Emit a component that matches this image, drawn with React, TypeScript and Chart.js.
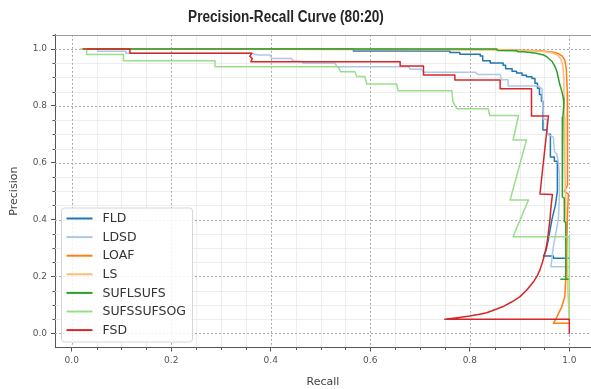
import React, { useEffect, useRef } from "react";
import { Chart, registerables } from "chart.js";

Chart.register(...registerables);

const CHART_TITLE = "Precision-Recall Curve (80:20)";
const X_LABEL = "Recall";
const Y_LABEL = "Precision";
const SERIES_NAMES = ["FLD", "LDSD", "LOAF", "LS", "SUFLSUFS", "SUFSSUFSOG", "FSD"];
const SERIES_COLORS = ["#1f77b4", "#aec7e8", "#ff7f0e", "#ffbb78", "#2ca02c", "#98df8a", "#d62728"];
const X_TICKS = [0, 0.2, 0.4, 0.6, 0.8, 1.0];
const Y_TICKS = [0, 0.2, 0.4, 0.6, 0.8, 1.0];

// [recall, precision]
const fld: number[][] = [
  [0.022, 1.0], [0.566, 1.0], [0.566, 0.993], [0.760, 0.993], [0.760, 0.988], [0.780, 0.988],
  [0.780, 0.982], [0.821, 0.982], [0.821, 0.975], [0.826, 0.975], [0.826, 0.959], [0.841, 0.959],
  [0.841, 0.951], [0.867, 0.951], [0.867, 0.943], [0.872, 0.943], [0.872, 0.931], [0.885, 0.931],
  [0.885, 0.922], [0.894, 0.922], [0.894, 0.916], [0.905, 0.916], [0.905, 0.908], [0.914, 0.908],
  [0.914, 0.902], [0.925, 0.902], [0.925, 0.896], [0.931, 0.896], [0.931, 0.880], [0.936, 0.880],
  [0.936, 0.862], [0.940, 0.862], [0.940, 0.840], [0.944, 0.840], [0.944, 0.816], [0.947, 0.816],
  [0.947, 0.715], [0.955, 0.715], [0.955, 0.700], [0.962, 0.700], [0.962, 0.620], [0.970, 0.620],
  [0.970, 0.605], [0.976, 0.605], [0.976, 0.500], [0.972, 0.450], [0.965, 0.400], [0.958, 0.330],
  [0.953, 0.290], [0.948, 0.272], [0.968, 0.272], [0.968, 0.264], [1.0, 0.264],
];

const ldsd: number[][] = [
  [0.022, 1.0], [0.052, 1.0], [0.052, 0.992], [0.109, 0.992], [0.109, 0.985], [0.358, 0.985],
  [0.375, 0.979], [0.399, 0.979], [0.402, 0.967], [0.442, 0.967], [0.444, 0.959], [0.465, 0.955],
  [0.465, 0.950], [0.529, 0.950], [0.533, 0.938], [0.677, 0.938], [0.680, 0.929], [0.703, 0.929],
  [0.707, 0.918], [0.811, 0.918], [0.817, 0.910], [0.861, 0.910], [0.864, 0.892], [0.877, 0.892],
  [0.877, 0.870], [0.938, 0.870], [0.945, 0.860], [0.948, 0.753], [0.955, 0.753], [0.956, 0.700],
  [0.968, 0.690], [0.970, 0.640], [0.975, 0.630], [0.978, 0.600], [0.980, 0.560], [0.980, 0.480],
  [0.978, 0.400], [0.968, 0.305], [0.963, 0.234], [1.0, 0.234],
];

const loaf: number[][] = [
  [0.022, 1.0], [0.851, 0.998], [0.941, 0.994], [0.968, 0.989], [0.978, 0.984], [0.986, 0.975],
  [0.991, 0.960], [0.994, 0.930], [0.996, 0.850], [0.997, 0.600], [0.996, 0.520], [0.990, 0.500],
  [0.998, 0.490], [0.996, 0.399], [0.995, 0.281], [0.993, 0.200], [0.991, 0.129], [0.985, 0.094],
  [0.975, 0.058], [0.968, 0.035], [1.0, 0.035],
];

const ls: number[][] = [
  [0.022, 1.0], [0.850, 0.997], [0.940, 0.993], [0.963, 0.988], [0.976, 0.980], [0.983, 0.965],
  [0.987, 0.940], [0.989, 0.900], [0.990, 0.760], [0.991, 0.600], [0.992, 0.500], [0.995, 0.300],
  [0.997, 0.150], [1.0, 0.045],
];

const suflsufs: number[][] = [
  [0.022, 1.0], [0.854, 1.0], [0.856, 0.995], [0.894, 0.994], [0.897, 0.990], [0.908, 0.990],
  [0.934, 0.985], [0.950, 0.978], [0.955, 0.972], [0.965, 0.957], [0.971, 0.939], [0.975, 0.921],
  [0.978, 0.898], [0.981, 0.874], [0.985, 0.851], [0.988, 0.828], [0.989, 0.804], [0.987, 0.760],
  [0.986, 0.480], [0.990, 0.475], [0.990, 0.393], [0.993, 0.390], [0.993, 0.190], [0.983, 0.190],
  [1.0, 0.190],
];

const sufssufsog: number[][] = [
  [0.016, 1.0], [0.030, 1.0], [0.030, 0.981], [0.104, 0.981], [0.104, 0.959], [0.288, 0.959],
  [0.288, 0.938], [0.536, 0.938], [0.540, 0.920], [0.569, 0.920], [0.573, 0.903], [0.589, 0.903],
  [0.593, 0.877], [0.653, 0.877], [0.656, 0.853], [0.764, 0.853], [0.766, 0.815], [0.774, 0.790],
  [0.837, 0.790], [0.840, 0.766], [0.898, 0.766], [0.887, 0.680], [0.914, 0.680], [0.881, 0.469],
  [0.918, 0.469], [0.887, 0.340], [1.0, 0.340], [1.0, 0.045],
];

const fsd: number[][] = [
  [0.022, 1.0], [0.117, 1.0], [0.117, 0.985], [0.362, 0.985], [0.358, 0.975], [0.363, 0.966],
  [0.360, 0.955], [0.660, 0.955], [0.660, 0.940], [0.707, 0.940], [0.707, 0.909], [0.770, 0.909],
  [0.770, 0.891], [0.861, 0.891], [0.861, 0.860], [0.924, 0.860], [0.924, 0.764], [0.958, 0.764],
  [0.941, 0.490], [0.966, 0.488], [0.963, 0.440], [0.961, 0.399], [0.959, 0.370], [0.957, 0.340],
  [0.955, 0.315], [0.951, 0.281], [0.946, 0.250], [0.941, 0.223], [0.935, 0.200], [0.928, 0.181],
  [0.915, 0.153], [0.901, 0.129], [0.884, 0.110], [0.867, 0.094], [0.850, 0.083], [0.834, 0.072],
  [0.817, 0.066], [0.800, 0.061], [0.775, 0.055], [0.750, 0.049], [1.0, 0.049], [1.0, 0.0],
];

const SERIES_POINTS = [fld, ldsd, loaf, ls, suflsufs, sufssufsog, fsd];

const gridPlugin = {
  id: "mplGrid",
  beforeDatasetsDraw(chart: any) {
    const { ctx, chartArea: a, scales } = chart;
    const xs = scales.x;
    const ys = scales.y;
    ctx.save();
    ctx.beginPath();
    ctx.rect(a.left, a.top, a.right - a.left, a.bottom - a.top);
    ctx.clip();
    ctx.strokeStyle = "#e8e8e8";
    ctx.lineWidth = 0.8;
    ctx.setLineDash([]);
    for (let i = -1; i <= 21; i++) {
      if (i % 4 === 0) continue;
      const v = i * 0.05;
      const px = Math.round(xs.getPixelForValue(v)) + 0.5;
      const py = Math.round(ys.getPixelForValue(v)) + 0.5;
      ctx.beginPath();
      ctx.moveTo(px, a.top);
      ctx.lineTo(px, a.bottom);
      ctx.moveTo(a.left, py);
      ctx.lineTo(a.right, py);
      ctx.stroke();
    }
    ctx.strokeStyle = "#a8a8a8";
    ctx.lineWidth = 1;
    ctx.setLineDash([2, 2]);
    X_TICKS.forEach((v) => {
      const px = Math.round(xs.getPixelForValue(v)) + 0.5;
      ctx.beginPath();
      ctx.moveTo(px, a.top);
      ctx.lineTo(px, a.bottom);
      ctx.stroke();
    });
    Y_TICKS.forEach((v) => {
      const py = Math.round(ys.getPixelForValue(v)) + 0.5;
      ctx.beginPath();
      ctx.moveTo(a.left, py);
      ctx.lineTo(a.right, py);
      ctx.stroke();
    });
    ctx.restore();

    ctx.save();
    ctx.strokeStyle = "#9a9a9a";
    ctx.lineWidth = 1;
    ctx.beginPath();
    ctx.moveTo(a.left, Math.round(a.top) + 0.5);
    ctx.lineTo(a.right, Math.round(a.top) + 0.5);
    ctx.stroke();
    ctx.strokeStyle = "#555";
    for (let i = -1; i <= 21; i++) {
      if (i % 4 === 0) continue;
      const v = i * 0.05;
      const px = Math.round(xs.getPixelForValue(v)) + 0.5;
      const py = Math.round(ys.getPixelForValue(v)) + 0.5;
      ctx.beginPath();
      if (px >= a.left && px <= a.right) {
        ctx.moveTo(px, a.bottom);
        ctx.lineTo(px, a.bottom + 2.5);
      }
      if (py >= a.top && py <= a.bottom) {
        ctx.moveTo(a.left, py);
        ctx.lineTo(a.left - 2.5, py);
      }
      ctx.stroke();
    }
    ctx.restore();
  },
};

const legendPlugin = {
  id: "mplLegend",
  afterDatasetsDraw(chart: any) {
    const { ctx, chartArea: a } = chart;
    ctx.save();
    const bx = a.left + 6.5;
    const by = a.bottom - 139.5;
    const bw = 131;
    const bh = 134;
    ctx.beginPath();
    ctx.roundRect(bx, by, bw, bh, 3);
    ctx.fillStyle = "rgba(255,255,255,0.85)";
    ctx.fill();
    ctx.strokeStyle = "#d6d6d6";
    ctx.lineWidth = 1;
    ctx.stroke();
    ctx.font = '12.5px "DejaVu Sans"';
    ctx.textBaseline = "middle";
    ctx.textAlign = "left";
    chart.data.datasets.forEach((ds: any, i: number) => {
      const yy = by + 10.5 + i * 18.6;
      ctx.strokeStyle = ds.borderColor;
      ctx.lineWidth = 2;
      ctx.beginPath();
      ctx.moveTo(bx + 5, yy);
      ctx.lineTo(bx + 31, yy);
      ctx.stroke();
      ctx.fillStyle = "#333";
      ctx.fillText(ds.label, bx + 41, yy + 0.5);
    });
    ctx.restore();
  },
};

// Title drawn with a slight horizontal condensation, as in the reference
const titlePlugin = {
  id: "condensedTitle",
  afterDraw(chart: any) {
    const { ctx } = chart;
    ctx.save();
    ctx.font = 'bold 16px "Liberation Sans", Arial, sans-serif';
    ctx.fillStyle = "#262626";
    ctx.textAlign = "center";
    ctx.textBaseline = "middle";
    ctx.translate(286, 18);
    ctx.scale(0.85, 1);
    ctx.fillText(CHART_TITLE, 0, 0);
    ctx.restore();
  },
};

export default function App() {
  const canvasRef = useRef<HTMLCanvasElement | null>(null);

  useEffect(() => {
    if (!canvasRef.current) return;
    const datasets = SERIES_NAMES.map((name, i) => ({
      label: name,
      data: SERIES_POINTS[i].map((p) => ({ x: p[0], y: p[1] })),
      borderColor: SERIES_COLORS[i],
      backgroundColor: SERIES_COLORS[i],
      borderWidth: 1.5,
      pointRadius: 0,
      tension: 0,
      fill: false,
      borderJoinStyle: "round" as const,
      order: SERIES_NAMES.length - 1 - i,
    }));
    const tickFont = { family: '"DejaVu Sans"', size: 9 };
    const chart = new Chart(canvasRef.current, {
      type: "line",
      data: { datasets },
      plugins: [gridPlugin, legendPlugin, titlePlugin],
      options: {
        animation: false,
        responsive: false,
        maintainAspectRatio: false,
        devicePixelRatio: 1,
        layout: { padding: { top: 34.8, left: 0, right: 0, bottom: 0 } },
        plugins: {
          legend: { display: false },
          tooltip: { enabled: false },
          title: { display: false, text: CHART_TITLE },
        },
        scales: {
          x: {
            type: "linear",
            min: -0.0336,
            max: 1.0436,
            afterBuildTicks: (s: any) => {
              s.ticks = X_TICKS.map((v) => ({ value: v }));
            },
            afterFit: (s: any) => {
              s.height = 41.5;
            },
            ticks: {
              color: "#555",
              font: tickFont,
              padding: 4,
              maxRotation: 0,
              autoSkip: false,
              callback: (v: any) => Number(v).toFixed(1),
            },
            grid: { drawOnChartArea: false, drawTicks: true, tickLength: 4, tickColor: "#555", tickWidth: 1 },
            border: { display: true, color: "#555", width: 1 },
            title: { display: true, text: X_LABEL, color: "#444", font: { family: '"DejaVu Sans"', size: 11 }, padding: { top: 0, bottom: 0 } },
          },
          y: {
            type: "linear",
            min: -0.05,
            max: 1.05,
            afterBuildTicks: (s: any) => {
              s.ticks = Y_TICKS.map((v) => ({ value: v }));
            },
            afterFit: (s: any) => {
              s.width = 55;
            },
            ticks: {
              color: "#555",
              font: tickFont,
              padding: 4,
              autoSkip: false,
              callback: (v: any) => Number(v).toFixed(1),
            },
            grid: { drawOnChartArea: false, drawTicks: true, tickLength: 4, tickColor: "#555", tickWidth: 1 },
            border: { display: true, color: "#555", width: 1 },
            title: { display: true, text: Y_LABEL, color: "#444", font: { family: '"DejaVu Sans"', size: 11 }, padding: { top: 8, bottom: 0 } },
          },
        },
      } as any,
    });
    return () => chart.destroy();
  }, []);

  return (
    <div style={{ position: "absolute", left: 0, top: 0, width: 591, height: 389, background: "#fff" }}>
      <canvas ref={canvasRef} width={591} height={389} style={{ display: "block" }} />
    </div>
  );
}
